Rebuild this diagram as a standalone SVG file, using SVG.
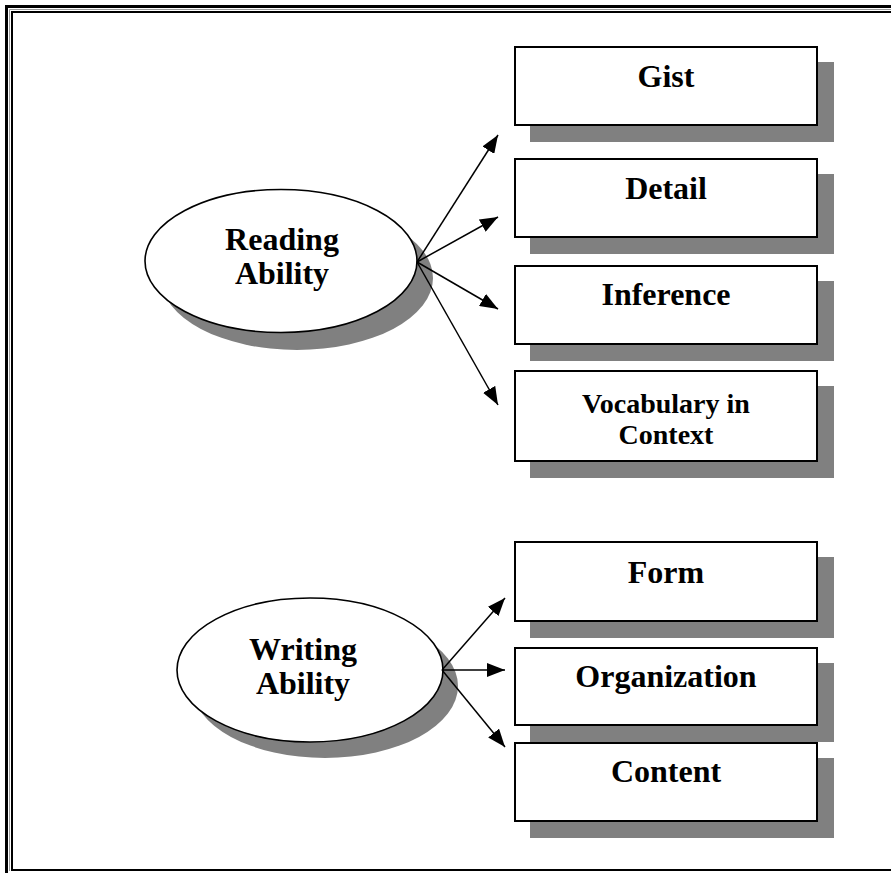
<svg xmlns="http://www.w3.org/2000/svg" width="891" height="873" viewBox="0 0 891 873">
<defs>
<marker id="ah" viewBox="0 0 18 14" refX="18" refY="7" markerWidth="18" markerHeight="14" markerUnits="userSpaceOnUse" orient="auto">
<path d="M0,0 L18,7 L0,14 Z" fill="#000"/>
</marker>
</defs>
<style>
.t{font-family:"Liberation Serif","Times New Roman",serif;font-weight:bold;font-size:32px;text-anchor:middle;fill:#000}
.sm{font-size:28px}
.box{fill:#fff;stroke:#000;stroke-width:2}
.sh{fill:#808080}
.ell{fill:#fff;stroke:#000;stroke-width:1.6}
.c{stroke:#000;stroke-width:1.5;fill:none;marker-end:url(#ah)}
</style>
<rect width="891" height="873" fill="#fff"/>
<g id="border" fill="none">
<path d="M6.5,873 V6.5 H891" stroke="#000" stroke-width="3"/>
<path d="M9.5,871 V9.5 H891" stroke="#999" stroke-width="1"/>
<path d="M12,11 V870 H891 M11,12 H891" stroke="#000" stroke-width="2"/>
</g>
<g id="reading">
<ellipse class="sh" cx="297" cy="278" rx="136" ry="72"/>
<ellipse class="ell" cx="281" cy="261" rx="136" ry="71.5"/>
<text class="t" x="282" y="250">Reading</text>
<text class="t" x="282" y="284">Ability</text>
</g>
<g id="writing">
<ellipse class="sh" cx="325" cy="686" rx="133" ry="72"/>
<ellipse class="ell" cx="310" cy="670" rx="133" ry="72"/>
<text class="t" x="303" y="660">Writing</text>
<text class="t" x="303" y="694">Ability</text>
</g>
<g id="connectors">
<line class="c" x1="417" y1="262" x2="498" y2="135"/>
<line class="c" x1="417" y1="262" x2="498" y2="217"/>
<line class="c" x1="417" y1="262" x2="498" y2="309"/>
<line class="c" x1="417" y1="262" x2="498" y2="405"/>
<line class="c" x1="442" y1="670" x2="505" y2="598"/>
<line class="c" x1="442" y1="670" x2="505" y2="670"/>
<line class="c" x1="442" y1="670" x2="505" y2="747"/>
</g>
<g id="gist">
<rect class="sh" x="530" y="62" width="304" height="80"/>
<rect class="box" x="515" y="47" width="302" height="78"/>
<text class="t" x="666" y="87">Gist</text>
</g>
<g id="detail">
<rect class="sh" x="530" y="174" width="304" height="80"/>
<rect class="box" x="515" y="159" width="302" height="78"/>
<text class="t" x="666" y="199">Detail</text>
</g>
<g id="inference">
<rect class="sh" x="530" y="281" width="304" height="80"/>
<rect class="box" x="515" y="266" width="302" height="78"/>
<text class="t" x="666" y="305">Inference</text>
</g>
<g id="vocabulary">
<rect class="sh" x="530" y="386" width="304" height="92"/>
<rect class="box" x="515" y="371" width="302" height="90"/>
<text class="t sm" x="666" y="413">Vocabulary in</text>
<text class="t sm" x="666" y="444">Context</text>
</g>
<g id="form">
<rect class="sh" x="530" y="557" width="304" height="81"/>
<rect class="box" x="515" y="542" width="302" height="79"/>
<text class="t" x="666" y="583">Form</text>
</g>
<g id="organization">
<rect class="sh" x="530" y="663" width="304" height="79"/>
<rect class="box" x="515" y="648" width="302" height="77"/>
<text class="t" x="666" y="687">Organization</text>
</g>
<g id="content">
<rect class="sh" x="530" y="758" width="304" height="80"/>
<rect class="box" x="515" y="743" width="302" height="78"/>
<text class="t" x="666" y="782">Content</text>
</g>
</svg>
